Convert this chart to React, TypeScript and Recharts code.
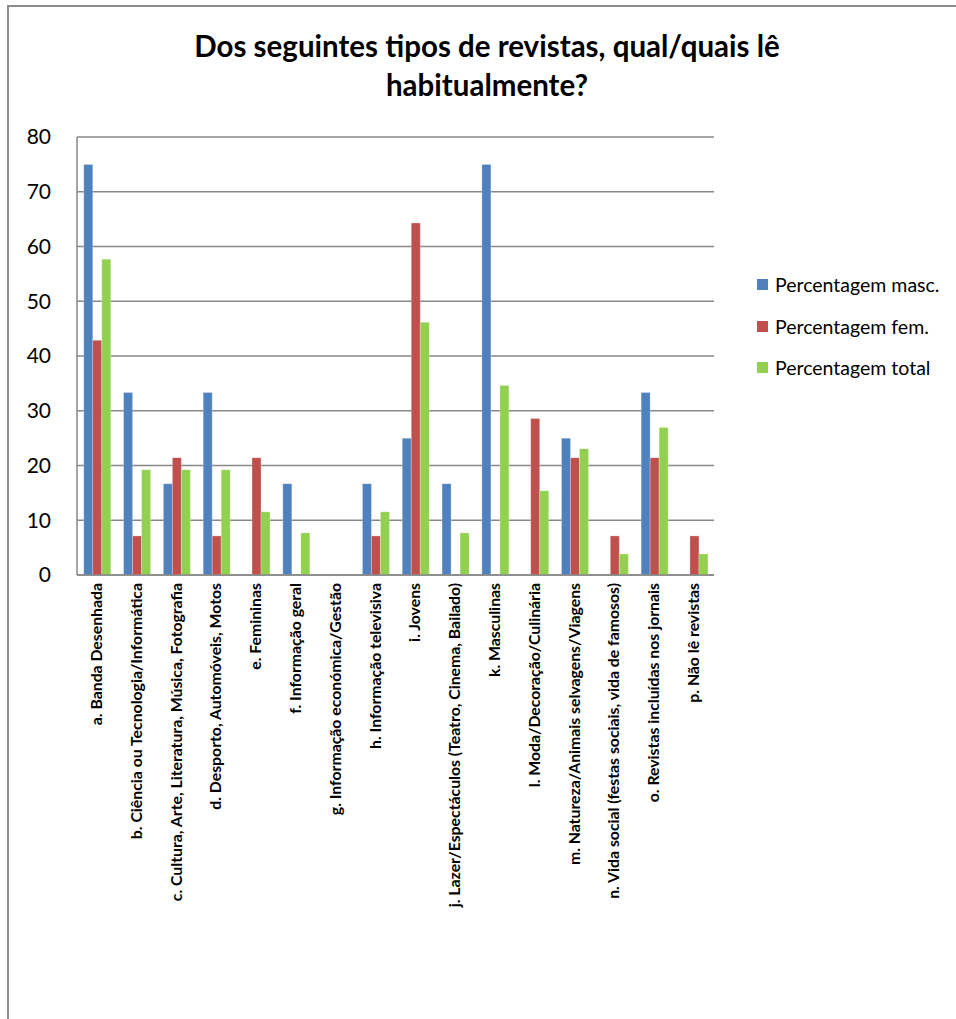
import React from 'react'
import { BarChart, Bar, XAxis, YAxis, CartesianGrid, Legend } from 'recharts'

const categories = [
  'a. Banda Desenhada',
  'b. Ciência ou Tecnologia/Informática',
  'c. Cultura, Arte, Literatura, Música, Fotografia',
  'd. Desporto, Automóveis, Motos',
  'e. Femininas',
  'f. Informação geral',
  'g. Informação económica/Gestão',
  'h. Informação televisiva',
  'i. Jovens',
  'j. Lazer/Espectáculos (Teatro, Cinema, Bailado)',
  'k. Masculinas',
  'l. Moda/Decoração/Culinária',
  'm. Natureza/Animais selvagens/Viagens',
  'n. Vida social (festas sociais, vida de famosos)',
  'o. Revistas incluídas nos jornais',
  'p. Não lê revistas',
]

const masc = [75, 33.33, 16.67, 33.33, 0, 16.67, 0, 16.67, 25, 16.67, 75, 0, 25, 0, 33.33, 0]
const fem = [42.86, 7.14, 21.43, 7.14, 21.43, 0, 0, 7.14, 64.29, 0, 0, 28.57, 21.43, 7.14, 21.43, 7.14]
const total = [57.69, 19.23, 19.23, 19.23, 11.54, 7.69, 0, 11.54, 46.15, 7.69, 34.62, 15.38, 23.08, 3.85, 26.92, 3.85]

const yTicks = [0, 10, 20, 30, 40, 50, 60, 70, 80]

const series = [
  { key: 'masc', name: 'Percentagem masc.', color: '#4F81BD' },
  { key: 'fem', name: 'Percentagem fem.', color: '#C0504D' },
  { key: 'total', name: 'Percentagem total', color: '#92D050' },
]

const data = categories.map((name, i) => ({
  name,
  masc: masc[i],
  fem: fem[i],
  total: total[i],
}))

const FONT = 'Lato, "Open Sans", sans-serif'

// rotated category labels
const CategoryTick = (props: any) => {
  const { x, y, payload } = props
  return (
    <g transform={`translate(${x},${y})`}>
      <text
        transform="rotate(-90)"
        textAnchor="end"
        dy={5}
        fontFamily={FONT}
        fontWeight="bold"
        fontSize={15.8}
        fill="#000"
      >
        {payload.value}
      </text>
    </g>
  )
}

const LegendBox = () => (
  <div style={{ fontFamily: FONT, fontSize: 19.5, color: '#000' }}>
    {series.map(s => (
      <div key={s.key} style={{ display: 'flex', alignItems: 'center', height: 41.5 }}>
        <span style={{ width: 11, height: 11, background: s.color, marginRight: 7, display: 'inline-block' }} />
        {s.name}
      </div>
    ))}
  </div>
)

export default function App() {
  return (
    <div style={{ position: 'absolute', left: 0, top: 0, width: 956, height: 1019, background: '#fff' }}>
      {/* chart area frame: only top and left edges are visible */}
      <div style={{ position: 'absolute', left: 7, top: 5, width: 949, height: 1.5, background: '#8c8c8c' }} />
      <div style={{ position: 'absolute', left: 7, top: 5, width: 1.5, height: 1014, background: '#8c8c8c' }} />
      <div
        style={{
          position: 'absolute',
          left: 0,
          top: 26,
          width: 974,
          textAlign: 'center',
          fontFamily: FONT,
          fontWeight: 'bold',
          fontSize: 29.5,
          lineHeight: '39px',
        }}
      >
        Dos seguintes tipos de revistas, qual/quais lê
        <br />
        habitualmente?
      </div>
      <div style={{ position: 'absolute', left: 0, top: 0 }}>
        <BarChart
          width={956}
          height={1019}
          data={data}
          margin={{ top: 137, right: 242, bottom: 0, left: 0 }}
          barCategoryGap="17%"
          barGap={0}
        >
          <CartesianGrid vertical={false} stroke="#878787" strokeWidth={1.5} />
          <XAxis
            dataKey="name"
            interval={0}
            height={444}
            tick={<CategoryTick />}
            tickLine={false}
            axisLine={{ stroke: '#878787', strokeWidth: 1.5 }}
          />
          <YAxis
            width={77}
            domain={[0, 80]}
            ticks={yTicks}
            interval={0}
            tickSize={0}
            tickMargin={26}
            tick={{ fontFamily: FONT, fontSize: 21, fill: '#000' }}
            tickLine={false}
            axisLine={{ stroke: '#878787', strokeWidth: 1.5 }}
          />
          <Legend
            layout="vertical"
            align="center"
            verticalAlign="middle"
            wrapperStyle={{ left: 757, top: 264, width: 200 }}
            content={<LegendBox />}
          />
          {series.map(s => (
            <Bar
              key={s.key}
              dataKey={s.key}
              name={s.name}
              fill={s.color}
              stroke="#ffffff"
              strokeOpacity={0.5}
              strokeWidth={0.5}
              isAnimationActive={false}
            />
          ))}
        </BarChart>
      </div>
    </div>
  )
}
